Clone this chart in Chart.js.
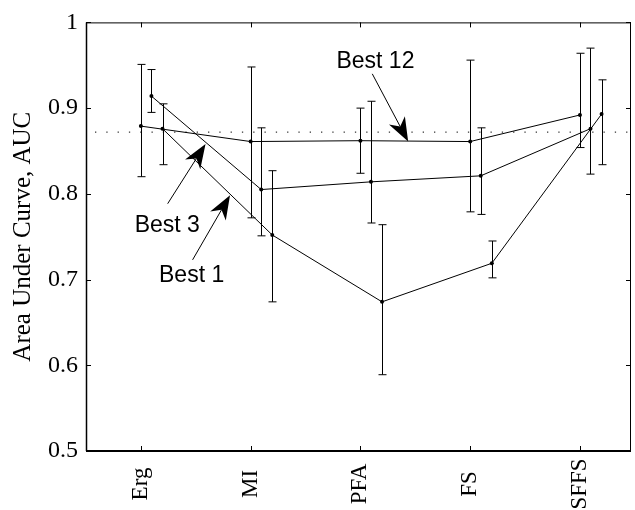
<!DOCTYPE html>
<html>
<head>
<meta charset="utf-8">
<script src="https://cdn.jsdelivr.net/npm/chart.js@4/dist/chart.umd.min.js"></script>
<style>
  html, body { margin: 0; padding: 0; background: #fff; }
  #box { width: 635px; height: 510px; }
</style>
</head>
<body>
<div id="box"><canvas id="auc"></canvas></div>
<script>
// methods along the x axis
const categories = ['Erg', 'MI', 'PFA', 'FS', 'SFFS'];
const xTicks = [1, 2, 3, 4, 5];

// AUC mean and error bar ends
const best12 = [0.879, 0.861, 0.862, 0.861, 0.892];
const best12Lo = [0.820, 0.772, 0.824, 0.779, 0.854];
const best12Hi = [0.951, 0.948, 0.900, 0.956, 0.964];

const best3 = [0.914, 0.805, 0.814, 0.821, 0.876];
const best3Lo = [0.895, 0.751, 0.766, 0.776, 0.823];
const best3Hi = [0.945, 0.877, 0.908, 0.877, 0.970];

const best1 = [0.876, 0.752, 0.674, 0.719, 0.893];
const best1Lo = [0.834, 0.674, 0.589, 0.702, 0.834];
const best1Hi = [0.905, 0.827, 0.764, 0.745, 0.933];

// small sideways shift so the error bars don't overlap
const xShift = [0, 0.096, 0.197];
const refLine = 0.872;

const yTicks = [0.5, 0.6, 0.7, 0.8, 0.9, 1];
const yTickLabels = ['0.5', '0.6', '0.7', '0.8', '0.9', '1'];

// labels with arrows, in data units
const notes = [
  { text: 'Best 12', at: [3.137, 0.947], tail: [3.108, 0.940], tip: [3.435, 0.861] },
  { text: 'Best 3', at: [1.240, 0.756], tail: [1.244, 0.7885], tip: [1.589, 0.858] },
  { text: 'Best 1', at: [1.462, 0.697], tail: [1.471, 0.723], tip: [1.812, 0.7985] }
];

const series = [
  { name: 'Best 12', mean: best12, lo: best12Lo, hi: best12Hi },
  { name: 'Best 3', mean: best3, lo: best3Lo, hi: best3Hi },
  { name: 'Best 1', mean: best1, lo: best1Lo, hi: best1Hi }
];

const serif = '"Liberation Serif", "Times New Roman", serif';
Chart.defaults.font.family = serif;
Chart.defaults.color = '#000';

const datasets = series.map((s, k) => ({
  label: s.name,
  data: s.mean.map((v, i) => ({ x: xTicks[i] + xShift[k], y: v })),
  borderColor: '#000',
  backgroundColor: '#000',
  borderWidth: 1,
  pointRadius: 2,
  pointBorderWidth: 0,
  tension: 0
}));
datasets.push({
  label: 'ref',
  data: [{ x: 0.5, y: refLine }, { x: 5.465, y: refLine }],
  borderColor: '#000',
  borderWidth: 1,
  borderDash: [1.3, 10],
  borderDashOffset: 2.3,
  pointRadius: 0
});

function arrow(ctx, x0, y0, x1, y1) {
  const dx = x1 - x0, dy = y1 - y0;
  const len = Math.hypot(dx, dy);
  const ux = dx / len, uy = dy / len;
  const nx = -uy, ny = ux;
  const L = 24, W = 9, notch = 7;
  const bx = x1 - L * ux, by = y1 - L * uy;
  const mx = x1 - (L - notch) * ux, my = y1 - (L - notch) * uy;
  ctx.beginPath();
  ctx.moveTo(x0, y0);
  ctx.lineTo(mx, my);
  ctx.stroke();
  ctx.beginPath();
  ctx.moveTo(x1, y1);
  ctx.lineTo(bx + W * nx, by + W * ny);
  ctx.lineTo(mx, my);
  ctx.lineTo(bx - W * nx, by - W * ny);
  ctx.closePath();
  ctx.fill();
}

const extras = {
  id: 'extras',
  afterDatasetsDraw(chart) {
    const { ctx, scales: { x, y } } = chart;
    ctx.save();
    ctx.strokeStyle = '#000';
    ctx.fillStyle = '#000';
    ctx.lineWidth = 1;
    // error bars
    series.forEach((s, k) => {
      s.mean.forEach((v, i) => {
        const px = Math.round(x.getPixelForValue(xTicks[i] + xShift[k])) + 0.5;
        const top = y.getPixelForValue(s.hi[i]);
        const bot = y.getPixelForValue(s.lo[i]);
        ctx.beginPath();
        ctx.moveTo(px, top); ctx.lineTo(px, bot);
        ctx.moveTo(px - 4, top); ctx.lineTo(px + 4, top);
        ctx.moveTo(px - 4, bot); ctx.lineTo(px + 4, bot);
        ctx.stroke();
      });
    });
    // annotations
    ctx.font = '23px "Liberation Sans", Arial, sans-serif';
    ctx.textAlign = 'center';
    ctx.textBaseline = 'alphabetic';
    notes.forEach(n => {
      ctx.fillText(n.text, x.getPixelForValue(n.at[0]), y.getPixelForValue(n.at[1]));
      arrow(ctx,
        x.getPixelForValue(n.tail[0]), y.getPixelForValue(n.tail[1]),
        x.getPixelForValue(n.tip[0]), y.getPixelForValue(n.tip[1]));
    });
    ctx.restore();
  },
  afterDraw(chart) {
    const { ctx, chartArea: a, scales: { x, y } } = chart;
    ctx.save();
    ctx.strokeStyle = '#000';
    ctx.fillStyle = '#000';
    const tk = 5;
    ctx.lineWidth = 1;
    ctx.beginPath();
    ctx.moveTo(a.left, a.top + 0.5); ctx.lineTo(a.right, a.top + 0.5);
    ctx.moveTo(a.right - 0.5, a.top); ctx.lineTo(a.right - 0.5, a.bottom);
    xTicks.forEach(v => {
      const px = Math.round(x.getPixelForValue(v)) + 0.5;
      ctx.moveTo(px, a.top); ctx.lineTo(px, a.top + tk);
      ctx.moveTo(px, a.bottom); ctx.lineTo(px, a.bottom - tk);
    });
    yTicks.forEach(v => {
      const py = Math.round(y.getPixelForValue(v)) + 0.5;
      ctx.moveTo(a.left, py); ctx.lineTo(a.left + tk, py);
      ctx.moveTo(a.right, py); ctx.lineTo(a.right - tk, py);
    });
    ctx.stroke();
    ctx.lineWidth = 1.5;
    ctx.beginPath();
    ctx.moveTo(a.left + 0.5, a.top); ctx.lineTo(a.left + 0.5, a.bottom);
    ctx.stroke();
    ctx.lineWidth = 2;
    ctx.beginPath();
    ctx.moveTo(a.left, a.bottom); ctx.lineTo(a.right, a.bottom);
    ctx.stroke();
    // category labels, turned upright and centred under each tick
    ctx.font = '23px ' + serif;
    ctx.textAlign = 'center';
    ctx.textBaseline = 'middle';
    xTicks.forEach((v, i) => {
      ctx.save();
      ctx.translate(x.getPixelForValue(v), a.bottom + 33);
      ctx.rotate(-Math.PI / 2);
      ctx.fillText(categories[i], 0, 0);
      ctx.restore();
    });
    ctx.restore();
  }
};

new Chart(document.getElementById('auc'), {
  type: 'line',
  data: { datasets },
  plugins: [extras],
  options: {
    responsive: true,
    maintainAspectRatio: false,
    animation: false,
    layout: { padding: { top: 16, right: 2, left: 0, bottom: 0 } },
    plugins: { legend: { display: false }, tooltip: { enabled: false } },
    scales: {
      x: {
        type: 'linear',
        min: 0.5,
        max: 5.465,
        afterBuildTicks: s => { s.ticks = xTicks.map(v => ({ value: v })); },
        afterFit: s => { s.height = 59; },
        grid: { display: false, drawTicks: false },
        border: { display: false },
        ticks: { display: false }
      },
      y: {
        min: 0.5,
        max: 1,
        afterBuildTicks: s => { s.ticks = yTicks.map(v => ({ value: v })); },
        afterFit: s => { s.width = 86; },
        grid: { display: false, drawTicks: false },
        border: { display: false },
        ticks: {
          padding: 8,
          font: { size: 24 },
          callback: v => yTickLabels[yTicks.indexOf(v)] ?? ''
        },
        title: {
          display: true,
          text: 'Area Under Curve, AUC',
          font: { size: 25 },
          padding: { top: 8, bottom: 0 }
        }
      }
    }
  }
});
</script>
</body>
</html>
